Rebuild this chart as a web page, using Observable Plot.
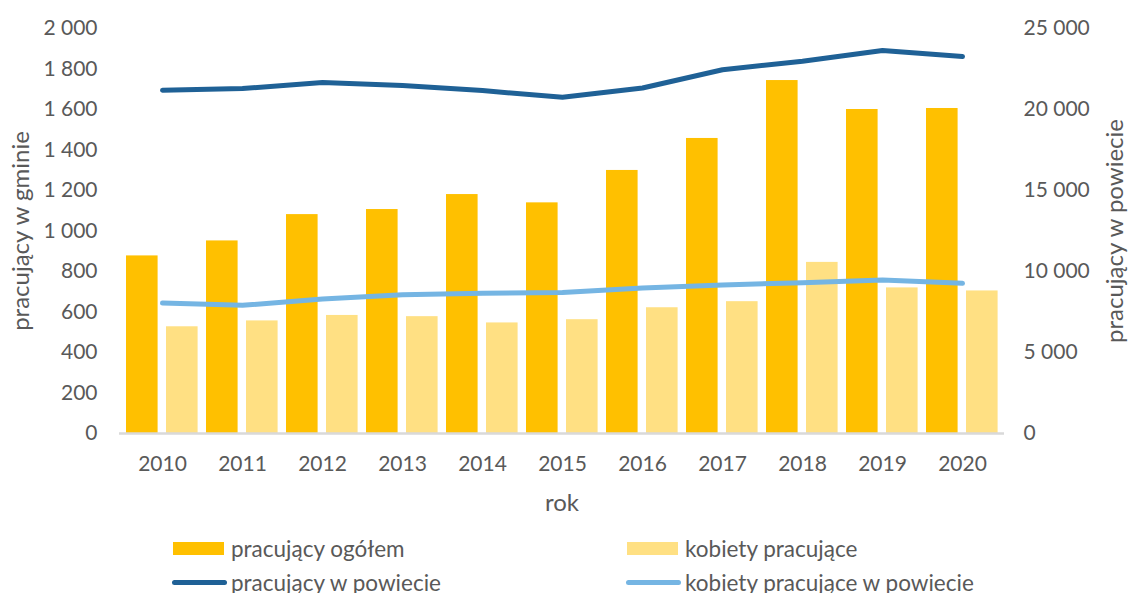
<!DOCTYPE html>
<html><head><meta charset="utf-8">
<script src="https://cdn.jsdelivr.net/npm/d3@7"></script>
<script src="https://cdn.jsdelivr.net/npm/@observablehq/plot@0.6"></script>
<style>
body{margin:0;background:#fff;font-family:Lato,"Open Sans",sans-serif;}
#chart{position:relative;width:1129px;height:593px;overflow:hidden;}
.lg{position:absolute;display:flex;align-items:center;font-size:22.5px;color:#595959;white-space:nowrap;}
.sw-bar{width:51px;height:13px;margin-right:7px;}
.sw-line{width:55px;height:5px;border-radius:3px;margin-right:4px;margin-left:-1px;}
</style></head><body><div id="chart"></div>
<script>
const years = [2010,2011,2012,2013,2014,2015,2016,2017,2018,2019,2020];
const pracujacyOgolem = [877,951,1081,1106,1180,1139,1299,1457,1743,1600,1605];
const kobietyPracujace = [527,556,583,577,546,562,621,651,845,719,704];
const pracujacyPowiat = [21190,21290,21660,21480,21170,20750,21330,22450,22980,23640,23270];
const kobietyPowiat = [8050,7910,8300,8570,8650,8710,8980,9170,9310,9480,9270];
const leftTicks = [0,200,400,600,800,1000,1200,1400,1600,1800,2000];
const rightTicks = [0,5000,10000,15000,20000,25000];
const seriesNames = ["pracujący ogółem","kobiety pracujące","pracujący w powiecie","kobiety pracujące w powiecie"];
const colors = ["#FFC000","#FFE083","#1F6196","#75B5E3"];

const ratio = 2000/25000;
const loc = d3.formatLocale({decimal:",", thousands:"\u00a0", grouping:[3], currency:["",""]});
const fmt = loc.format(",d");

const rows = years.map((y,i)=>({year:String(y), og:pracujacyOgolem[i], kob:kobietyPracujace[i], pow:pracujacyPowiat[i], kpow:kobietyPowiat[i]}));

const plot = Plot.plot({
  width:1129, height:525,
  marginTop:28, marginBottom:92, marginLeft:119, marginRight:125,
  style:{fontFamily:"Lato, 'Open Sans', sans-serif", fontSize:"21px", color:"#595959", background:"white", overflow:"visible"},
  x:{type:"band", domain:years.map(String), padding:0},
  y:{domain:[0,2000]},
  marks:[
    Plot.barY(rows,{x:"year", y:"og", fill:colors[0], insetLeft:4, insetRight:44.4}),
    Plot.barY(rows,{x:"year", y:"kob", fill:colors[1], insetLeft:44, insetRight:4.4}),
    Plot.ruleY([0],{stroke:"#D9D9D9", strokeWidth:2.5}),
    Plot.line(rows,{x:"year", y:d=>d.pow*ratio, stroke:colors[2], strokeWidth:5, strokeLinecap:"round", strokeLinejoin:"round"}),
    Plot.line(rows,{x:"year", y:d=>d.kpow*ratio, stroke:colors[3], strokeWidth:5, strokeLinecap:"round", strokeLinejoin:"round"}),
    Plot.axisX({tickSize:0, tickPadding:23, label:null, fill:"#595959"}),
    Plot.axisY(leftTicks,{tickSize:0, tickPadding:22, tickFormat:fmt, label:null, fill:"#595959"}),
    Plot.axisY(rightTicks.map(v=>v*ratio),{anchor:"right", tickSize:0, tickPadding:19, tickFormat:v=>fmt(Math.round(v/ratio)), label:null, fill:"#595959"}),
    Plot.text(["pracujący w gminie"],{frameAnchor:"left", textAnchor:"middle", rotate:-90, dx:-98, fontSize:24, fill:"#595959"}),
    Plot.text(["pracujący w powiecie"],{frameAnchor:"right", textAnchor:"middle", rotate:-90, dx:111, fontSize:24, fill:"#595959"}),
    Plot.text(["rok"],{frameAnchor:"bottom", dy:77, fontSize:24, fill:"#595959"})
  ]
});
const chart = document.getElementById("chart");
chart.appendChild(plot);

const legendPos = [[173,548],[627,548],[173,582],[627,582]];
seriesNames.forEach((name,i)=>{
  const d = document.createElement("div");
  d.className = "lg";
  d.style.left = legendPos[i][0]+"px";
  d.style.top = (legendPos[i][1]-14)+"px";
  d.style.height = "28px";
  const s = document.createElement("span");
  s.className = i<2 ? "sw-bar" : "sw-line";
  s.style.background = colors[i];
  d.appendChild(s);
  const t = document.createElement("span");
  t.textContent = name;
  d.appendChild(t);
  chart.appendChild(d);
});
</script></body></html>
